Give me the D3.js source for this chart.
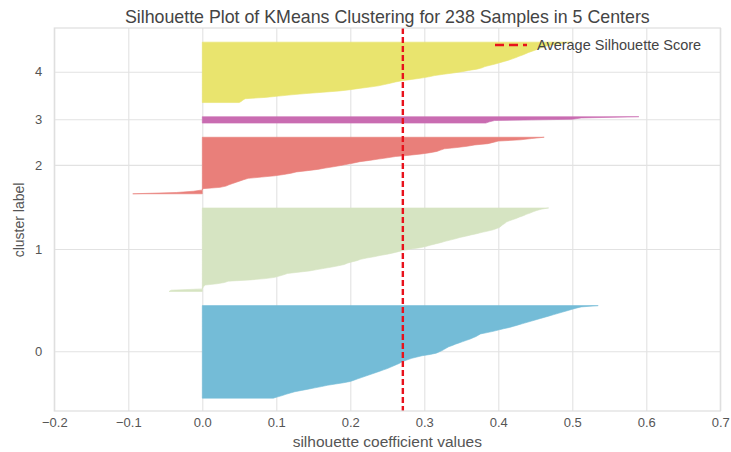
<!DOCTYPE html>
<html>
<head>
<meta charset="utf-8">
<script src="https://cdn.jsdelivr.net/npm/d3@7"></script>
<style>
	body { margin: 0; background: #fff; }
	svg text { font-family: "Liberation Sans", Arial, sans-serif; }
</style>
</head>
<body>
<svg id="chart" width="731" height="452"></svg>
<script>
/*jshint esversion: 6 */

// cluster labels (bottom to top) and their sorted silhouette values
var clusters = [0, 1, 2, 3, 4];

var cluster0 = [0.096, 0.102, 0.108, 0.113, 0.119, 0.125, 0.134, 0.143, 0.152, 0.161,
	0.169, 0.180, 0.191, 0.200, 0.205, 0.210, 0.215, 0.220, 0.225, 0.230,
	0.235, 0.240, 0.245, 0.250, 0.254, 0.258, 0.262, 0.266, 0.269, 0.273,
	0.278, 0.283, 0.290, 0.297, 0.308, 0.316, 0.320, 0.324, 0.327, 0.330,
	0.333, 0.338, 0.342, 0.347, 0.352, 0.357, 0.362, 0.366, 0.370, 0.373,
	0.376, 0.385, 0.393, 0.400, 0.407, 0.415, 0.421, 0.427, 0.433, 0.439,
	0.445, 0.451, 0.457, 0.463, 0.469, 0.475, 0.481, 0.487, 0.493, 0.499,
	0.505, 0.512, 0.535];

var cluster1 = [-0.045, -0.042, 0.000, 0.001, 0.002, 0.004, 0.020, 0.030, 0.035, 0.065,
	0.085, 0.098, 0.104, 0.110, 0.115, 0.130, 0.145, 0.155, 0.165, 0.175,
	0.184, 0.192, 0.196, 0.202, 0.209, 0.214, 0.222, 0.232, 0.240, 0.250,
	0.258, 0.265, 0.272, 0.282, 0.294, 0.302, 0.308, 0.315, 0.322, 0.328,
	0.335, 0.342, 0.348, 0.356, 0.363, 0.371, 0.378, 0.386, 0.393, 0.398,
	0.402, 0.404, 0.406, 0.409, 0.411, 0.415, 0.420, 0.425, 0.429, 0.434,
	0.438, 0.443, 0.447, 0.452, 0.458, 0.468];

var cluster2 = [-0.094, -0.035, -0.012, 0.000, 0.001, 0.024, 0.032, 0.036, 0.041, 0.046,
	0.051, 0.056, 0.062, 0.080, 0.098, 0.110, 0.120, 0.127, 0.142, 0.156,
	0.166, 0.177, 0.187, 0.196, 0.205, 0.213, 0.226, 0.238, 0.250, 0.261,
	0.280, 0.296, 0.308, 0.317, 0.322, 0.327, 0.344, 0.358, 0.368, 0.386,
	0.393, 0.400, 0.430, 0.445, 0.462];

var cluster3 = [0.383, 0.388, 0.395, 0.500, 0.512, 0.590];

var cluster4 = [0.050, 0.053, 0.055, 0.058, 0.085, 0.103, 0.120, 0.140, 0.163, 0.185,
	0.200, 0.212, 0.226, 0.238, 0.246, 0.254, 0.261, 0.270, 0.283, 0.296,
	0.306, 0.314, 0.326, 0.339, 0.351, 0.360, 0.371, 0.378, 0.382, 0.389,
	0.396, 0.402, 0.408, 0.414, 0.419, 0.424, 0.428, 0.433, 0.437, 0.441,
	0.446, 0.451, 0.455, 0.460, 0.465, 0.474, 0.485, 0.500];

var clusterValues = [cluster0, cluster1, cluster2, cluster3, cluster4];
var clusterColors = ["#74bcd7", "#d6e4c2", "#e97f7a", "#c96cb1", "#e9e46e"];

var avgScore = 0.271;
var xTicks = [-0.2, -0.1, 0.0, 0.1, 0.2, 0.3, 0.4, 0.5, 0.6, 0.7];
var nSamples = 238;


var svg = d3.select("#chart");
var margin = { top: 28, right: 10.7, bottom: 41, left: 54.3 };
var width = 731 - margin.left - margin.right,
	height = 452 - margin.top - margin.bottom;

var g = svg.append("g")
	.attr("transform", "translate(" + margin.left + "," + margin.top + ")");


//************ LAYOUT (yellowbrick style: 10 units gap between clusters) ************

var yLower = 10;
var layout = clusters.map(function(c, i) {
	var vals = clusterValues[i];
	var item = { label: c, lower: yLower, values: vals, color: clusterColors[i] };
	yLower += vals.length + 10;
	return item;
});

var xScale = d3.scaleLinear().domain([-0.2, 0.7]).range([0, width]);
var yScale = d3.scaleLinear().domain([0, yLower]).range([height, 0]);


//************ GRID ************

var xGrid = d3.axisBottom(xScale)
	.tickValues(xTicks)
	.tickSize(-height)
	.tickFormat("");
g.append("g")
	.attr("class", "grid")
	.attr("transform", "translate(0," + height + ")")
	.call(xGrid);

var yGrid = d3.axisLeft(yScale)
	.tickValues(layout.map(d => d.lower + d.values.length / 2))
	.tickSize(-width)
	.tickFormat("");
g.append("g")
	.attr("class", "grid")
	.call(yGrid);

g.selectAll(".grid .domain").remove();
g.selectAll(".grid line")
	.attr("stroke", "#e2e2e2")
	.attr("stroke-width", 1.1);


//************ SILHOUETTES ************

var area = d3.area()
	.x0(xScale(0))
	.x1(d => xScale(d.v))
	.y(d => yScale(d.y));

g.selectAll(".silhouette")
	.data(layout)
	.enter().append("path")
	.attr("class", "silhouette")
	.attr("d", d => area(d.values.map((v, j) => ({ v: v, y: d.lower + j }))))
	.attr("fill", d => d.color)
	.attr("stroke", d => d.color)
	.attr("stroke-width", 0.6);


//************ AVERAGE LINE ************

g.append("line")
	.attr("x1", xScale(avgScore))
	.attr("x2", xScale(avgScore))
	.attr("y1", 0)
	.attr("y2", height)
	.attr("stroke", "#e8121c")
	.attr("stroke-width", 2.4)
	.attr("stroke-dasharray", "6,3");


//************ FRAME ************

g.append("rect")
	.attr("width", width)
	.attr("height", height)
	.attr("fill", "none")
	.attr("stroke", "#dedede")
	.attr("stroke-width", 1.2);


//************ AXES ************

var xAxis = d3.axisBottom(xScale)
	.tickValues(xTicks)
	.tickSize(0)
	.tickPadding(7)
	.tickFormat(d3.format(".1f"));
var xg = g.append("g")
	.attr("transform", "translate(0," + height + ")")
	.call(xAxis);

var yAxis = d3.axisLeft(yScale)
	.tickValues(layout.map(d => d.lower + d.values.length / 2))
	.tickSize(0)
	.tickPadding(12)
	.tickFormat((d, i) => layout[i].label);
var yg = g.append("g").call(yAxis);

[xg, yg].forEach(function(a) {
	a.select(".domain").remove();
	a.selectAll("text")
		.attr("fill", "#555")
		.style("font-size", "13px");
});

svg.append("text")
	.attr("x", margin.left + width / 2)
	.attr("y", 447)
	.attr("text-anchor", "middle")
	.attr("fill", "#555")
	.style("font-size", "15.5px")
	.text("silhouette coefficient values");

svg.append("text")
	.attr("transform", "translate(24," + (margin.top + 192) + ") rotate(-90)")
	.attr("text-anchor", "middle")
	.attr("fill", "#555")
	.style("font-size", "14px")
	.text("cluster label");

svg.append("text")
	.attr("x", margin.left + width / 2)
	.attr("y", 23)
	.attr("text-anchor", "middle")
	.attr("fill", "#444")
	.style("font-size", "17.8px")
	.text("Silhouette Plot of KMeans Clustering for " + nSamples + " Samples in " + clusters.length + " Centers");


//************ LEGEND ************

var legend = svg.append("g")
	.attr("transform", "translate(495,45)");
legend.append("line")
	.attr("x1", 0)
	.attr("x2", 32)
	.attr("stroke", "#e8121c")
	.attr("stroke-width", 2.4)
	.attr("stroke-dasharray", "9,5");
legend.append("text")
	.attr("x", 42)
	.attr("y", 5)
	.attr("fill", "#444")
	.style("font-size", "14.5px")
	.text("Average Silhouette Score");
</script>
</body>
</html>
